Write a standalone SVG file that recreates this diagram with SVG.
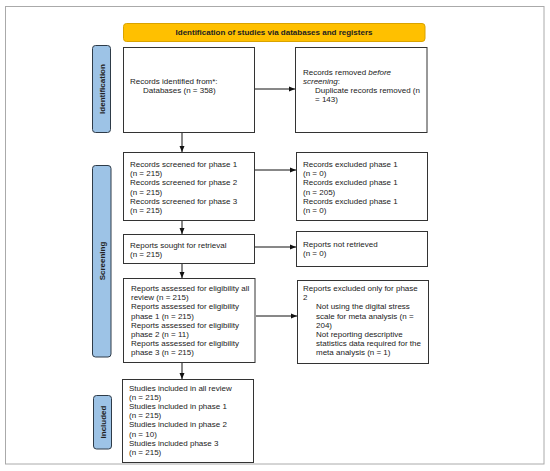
<svg xmlns="http://www.w3.org/2000/svg" width="550" height="471" viewBox="0 0 550 471">
<style>
.t{font-family:"Liberation Sans",Arial,sans-serif;font-size:8px;fill:#222}
.b{font-weight:bold}
.box{fill:#fff;stroke:#333;stroke-width:1}
.lab{fill:#9DC3E6;stroke:#2e3b48;stroke-width:1}
.c{stroke:#111;stroke-width:1;fill:none;marker-end:url(#ah)}
</style>
<defs>
<marker id="ah" viewBox="0 0 6 6" refX="6" refY="3" markerWidth="6" markerHeight="6" markerUnits="userSpaceOnUse" orient="auto">
<path d="M0,0.5 L6,3 L0,5.5 z" fill="#111"/>
</marker>
</defs>
<rect x="0" y="0" width="550" height="471" fill="#fff"/>
<rect x="5.5" y="6.5" width="538.5" height="457.5" fill="#fff" stroke="#aaa" stroke-width="1"/>

<g id="header">
<rect x="123.5" y="23.5" width="301.5" height="18" rx="3" fill="#FFC000" stroke="#d9a300"/>
<text class="t b" x="274" y="35" text-anchor="middle">Identification of studies via databases and registers</text>
</g>

<g id="label-identification">
<rect class="lab" x="92.5" y="45.5" width="18" height="87" rx="3"/>
<text class="t b" transform="translate(104.5,89) rotate(-90)" text-anchor="middle">Identification</text>
</g>
<g id="label-screening">
<rect class="lab" x="92.5" y="165.5" width="18.5" height="191.5" rx="3"/>
<text class="t b" transform="translate(104.8,261) rotate(-90)" text-anchor="middle">Screening</text>
</g>
<g id="label-included">
<rect class="lab" x="93.5" y="395.5" width="18" height="53.5" rx="3"/>
<text class="t b" transform="translate(105.5,422) rotate(-90)" text-anchor="middle">Included</text>
</g>

<g id="records-identified">
<rect class="box" x="123.5" y="47.5" width="131" height="85"/>
<text class="t" x="130" y="84">Records identified from*:</text>
<text class="t" x="143" y="93">Databases (n = 358)</text>
</g>
<g id="records-removed">
<rect class="box" x="295.5" y="47.5" width="131.5" height="85"/>
<text class="t" x="303" y="75">Records removed <tspan font-style="italic">before</tspan></text>
<text class="t" x="303" y="84"><tspan font-style="italic">screening</tspan>:</text>
<text class="t" x="315" y="93">Duplicate records removed (n</text>
<text class="t" x="315" y="102">= 143)</text>
</g>

<g id="records-screened">
<rect class="box" x="123.5" y="152.5" width="131" height="68"/>
<text class="t" x="130" y="167">Records screened for phase 1</text>
<text class="t" x="130" y="176.2">(n = 215)</text>
<text class="t" x="130" y="185.4">Records screened for phase 2</text>
<text class="t" x="130" y="194.6">(n = 215)</text>
<text class="t" x="130" y="203.8">Records screened for phase 3</text>
<text class="t" x="130" y="213">(n = 215)</text>
</g>
<g id="records-excluded">
<rect class="box" x="296.5" y="152.5" width="131" height="68"/>
<text class="t" x="303" y="167">Records excluded phase 1</text>
<text class="t" x="303" y="176.2">(n = 0)</text>
<text class="t" x="303" y="185.4">Records excluded phase 1</text>
<text class="t" x="303" y="194.6">(n = 205)</text>
<text class="t" x="303" y="203.8">Records excluded phase 1</text>
<text class="t" x="303" y="213">(n = 0)</text>
</g>

<g id="reports-sought">
<rect class="box" x="123.5" y="234.5" width="131" height="29"/>
<text class="t" x="130" y="248">Reports sought for retrieval</text>
<text class="t" x="130" y="257">(n = 215)</text>
</g>
<g id="reports-not-retrieved">
<rect class="box" x="296.5" y="231.5" width="131" height="35"/>
<text class="t" x="303" y="247">Reports not retrieved</text>
<text class="t" x="303" y="256">(n = 0)</text>
</g>

<g id="reports-assessed">
<rect class="box" x="123.5" y="278.5" width="131.5" height="84"/>
<text class="t" x="131" y="291">Reports assessed for eligibility all</text>
<text class="t" x="131" y="300.2">review (n = 215)</text>
<text class="t" x="131" y="309.4">Reports assessed for eligibility</text>
<text class="t" x="131" y="318.6">phase 1 (n = 215)</text>
<text class="t" x="131" y="327.8">Reports assessed for eligibility</text>
<text class="t" x="131" y="337">phase 2 (n = 11)</text>
<text class="t" x="131" y="346.2">Reports assessed for eligibility</text>
<text class="t" x="131" y="355.4">phase 3 (n = 215)</text>
</g>
<g id="reports-excluded">
<rect class="box" x="297.5" y="280.5" width="131" height="83"/>
<text class="t" x="303" y="291">Reports excluded only for phase</text>
<text class="t" x="303" y="300.2">2</text>
<text class="t" x="316" y="309.4">Not using the digital stress</text>
<text class="t" x="316" y="318.6">scale for meta analysis (n =</text>
<text class="t" x="316" y="327.8">204)</text>
<text class="t" x="316" y="337">Not reporting descriptive</text>
<text class="t" x="316" y="346.2">statistics data required for the</text>
<text class="t" x="316" y="355.4">meta analysis (n = 1)</text>
</g>

<g id="studies-included">
<rect class="box" x="122.5" y="379.5" width="131" height="83"/>
<text class="t" x="129" y="391">Studies included in all review</text>
<text class="t" x="129" y="400.1">(n = 215)</text>
<text class="t" x="129" y="409.2">Studies included in phase 1</text>
<text class="t" x="129" y="418.3">(n = 215)</text>
<text class="t" x="129" y="427.4">Studies included in phase 2</text>
<text class="t" x="129" y="436.5">(n = 10)</text>
<text class="t" x="129" y="445.6">Studies included phase 3</text>
<text class="t" x="129" y="454.7">(n = 215)</text>
</g>

<g id="connectors">
<path class="c" d="M182,133 V152"/>
<path class="c" d="M182,221 V234"/>
<path class="c" d="M182,264 V278"/>
<path class="c" d="M182,363 V379"/>
<path class="c" d="M255,89 H295"/>
<path class="c" d="M255,170 H296"/>
<path class="c" d="M255,247 H296"/>
<path class="c" d="M256,316 H297"/>
</g>
</svg>
